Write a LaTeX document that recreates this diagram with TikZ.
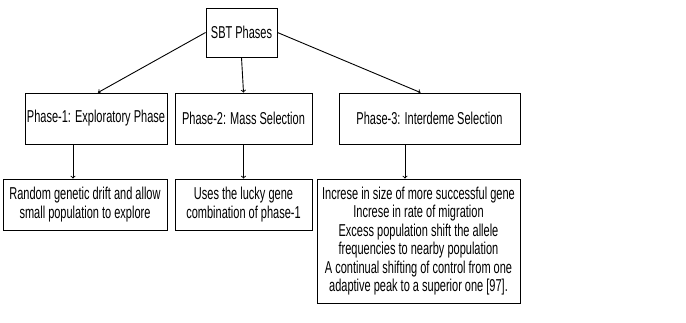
\documentclass[tikz,border=0pt]{standalone}
\usepackage{fontspec}
\setmainfont{Liberation Sans}[FakeStretch=0.64]
\usepackage{tikz}

\begin{document}
\begin{tikzpicture}[x=1pt, y=-1pt, line width=0.9pt,
    box/.style={draw, align=center, inner sep=0pt,
      font=\fontsize{17.2}{18.5}\selectfont}]
    \useasboundingbox (0,0) rectangle (686,323);

    \node[box, minimum width=71pt, minimum height=49pt] (sbt) at (241.5,32.5) {SBT Phases};

    \node[box, minimum width=142pt, minimum height=51pt] (p1) at (96,118.5) {Phase-1: Exploratory Phase};
    \node[box, minimum width=137pt, minimum height=51pt] (p2) at (243.5,118.5) {Phase-2: Mass Selection};
    \node[box, minimum width=181pt, minimum height=51pt] (p3) at (429.5,118.5) {Phase-3: Interdeme Selection};

    \node[box, minimum width=164pt, minimum height=51pt] (d1) at (85,204.5)
      {Random genetic drift and allow\\small population to explore};
    \node[box, minimum width=137pt, minimum height=51pt] (d2) at (243.5,204.5)
      {Uses the lucky gene\\combination of phase-1};
    \node[box, minimum width=203pt, minimum height=124pt] (d3) at (418.5,241)
      {Increse in size of more successful gene\\Increse in rate of migration\\
       Excess population shift the allele\\frequencies to nearby population\\
       A continual shifting of control from one\\adaptive peak to a superior one [97].};

    \draw (sbt.west) edge[->] ([xshift=2pt]p1.north)
          (sbt.south) edge[->] (p2.north)
          (sbt.east) edge[->] ([xshift=-9pt]p3.north);
    \draw ([xshift=-23pt]p1.south) edge[->] ([xshift=-23pt]p1.south |- d1.north)
          (p2.south) edge[->] (p2.south |- d2.north)
          ([xshift=-24.5pt]p3.south) edge[->] ([xshift=-24.5pt]p3.south |- d3.north);
  \end{tikzpicture}
\end{document}
